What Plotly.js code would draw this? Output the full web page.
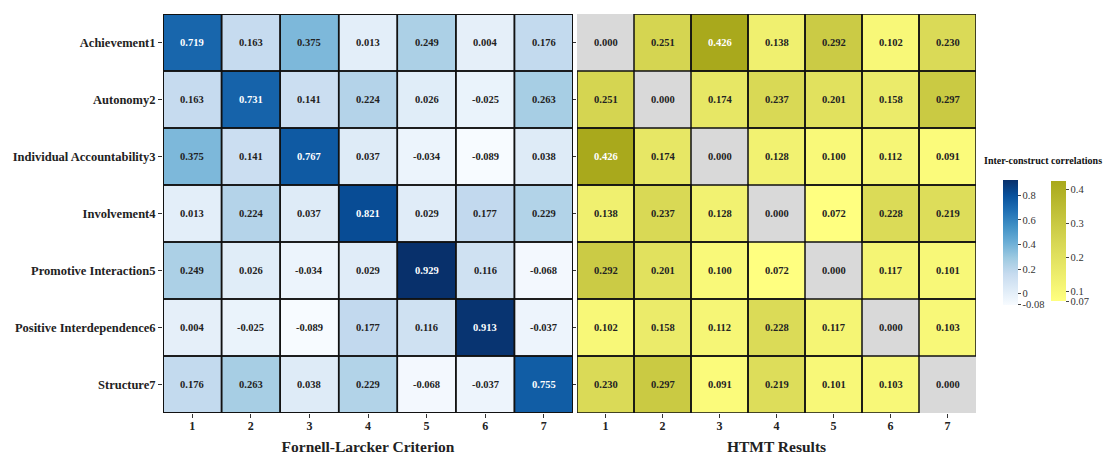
<!DOCTYPE html>
<html>
<head>
<meta charset="utf-8">
<script src="https://cdn.plot.ly/plotly-3.0.1.min.js"></script>
<style>html,body{margin:0;padding:0;background:#fff;}#chart{width:1108px;height:455px;}</style>
</head>
<body>
<div id="chart"></div>
<script>
// ---- data ----
const constructs = ["Achievement1","Autonomy2","Individual Accountability3","Involvement4","Promotive Interaction5","Positive Interdependence6","Structure7"];
const colLabels = ["1","2","3","4","5","6","7"];
const fornellLarcker = [
  [0.719, 0.163, 0.375, 0.013, 0.249, 0.004, 0.176],
  [0.163, 0.731, 0.141, 0.224, 0.026, -0.025, 0.263],
  [0.375, 0.141, 0.767, 0.037, -0.034, -0.089, 0.038],
  [0.013, 0.224, 0.037, 0.821, 0.029, 0.177, 0.229],
  [0.249, 0.026, -0.034, 0.029, 0.929, 0.116, -0.068],
  [0.004, -0.025, -0.089, 0.177, 0.116, 0.913, -0.037],
  [0.176, 0.263, 0.038, 0.229, -0.068, -0.037, 0.755]
];
const htmt = [
  [0.000, 0.251, 0.426, 0.138, 0.292, 0.102, 0.230],
  [0.251, 0.000, 0.174, 0.237, 0.201, 0.158, 0.297],
  [0.426, 0.174, 0.000, 0.128, 0.100, 0.112, 0.091],
  [0.138, 0.237, 0.128, 0.000, 0.072, 0.228, 0.219],
  [0.292, 0.201, 0.100, 0.072, 0.000, 0.117, 0.101],
  [0.102, 0.158, 0.112, 0.228, 0.117, 0.000, 0.103],
  [0.230, 0.297, 0.091, 0.219, 0.101, 0.103, 0.000]
];
const blueTickVals = [-0.089, 0, 0.2, 0.4, 0.6, 0.8];
const blueTickText = ["-0.08", "0", "0.2", "0.4", "0.6", "0.8"];
const yellowTickVals = [0.072, 0.1, 0.2, 0.3, 0.4];
const yellowTickText = ["0.07", "0.1", "0.2", "0.3", "0.4"];

// ---- build ----
const n = constructs.length;
const xs = colLabels.map((_, i) => i + 1);
const ys = constructs.map((_, i) => i + 1);
const serif = "Liberation Serif, Times New Roman, serif";

const flMin = Math.min(...fornellLarcker.flat());
const flMax = Math.max(...fornellLarcker.flat());
const offDiag = htmt.map((r, i) => r.map((v, j) => i === j ? null : v));
const diagOnly = htmt.map((r, i) => r.map((v, j) => i === j ? 1 : null));
const offVals = offDiag.flat().filter(v => v !== null);
const hMin = Math.min(...offVals), hMax = Math.max(...offVals);

const blues = [[0,'#f7fbff'],[0.125,'#deebf7'],[0.25,'#c6dbef'],[0.375,'#9ecae1'],[0.5,'#6baed6'],[0.625,'#4292c6'],[0.75,'#2171b5'],[0.875,'#08519c'],[1,'#08306b']];
const yellows = [[0,'#ffff80'],[0.5,'#d6d652'],[1,'#a9a91c']];

const cbTickFont = {family: serif, size: 10.5, color: '#333'};

const traces = [
  {type:'heatmap', x: xs, y: ys, z: fornellLarcker, xaxis:'x', yaxis:'y',
   colorscale: blues, zmin: flMin, zmax: flMax, hoverinfo:'z',
   colorbar: {x: 993/1108, xanchor:'left', y: 1-242/455, yanchor:'middle', thickness: 15,
              lenmode:'pixels', len: 145, outlinewidth: 0, ticks:'outside', ticklen: 3, tickcolor:'#444',
              tickvals: blueTickVals, ticktext: blueTickText, tickfont: cbTickFont}},
  {type:'heatmap', x: xs, y: ys, z: offDiag, xaxis:'x2', yaxis:'y2',
   colorscale: yellows, zmin: hMin, zmax: hMax, hoverinfo:'z',
   colorbar: {x: 1041/1108, xanchor:'left', y: 1-241/455, yanchor:'middle', thickness: 15,
              lenmode:'pixels', len: 140, outlinewidth: 0, ticks:'outside', ticklen: 3, tickcolor:'#444',
              tickvals: yellowTickVals, ticktext: yellowTickText, tickfont: cbTickFont}},
  {type:'heatmap', x: xs, y: ys, z: diagOnly, xaxis:'x2', yaxis:'y2',
   colorscale: [[0,'#d9d9d9'],[1,'#d9d9d9']], showscale: false, hoverinfo:'skip'}
];

const shapes = [];
const annotations = [];
for (let i = 0; i < n; i++) {
  for (let j = 0; j < n; j++) {
    const v = fornellLarcker[i][j];
    shapes.push({type:'rect', xref:'x', yref:'y', x0: xs[j]-0.5, x1: xs[j]+0.5, y0: ys[i]-0.5, y1: ys[i]+0.5,
                 line:{color:'#111', width:1.5}, fillcolor:'rgba(0,0,0,0)'});
    annotations.push({xref:'x', yref:'y', x: xs[j], y: ys[i], text: v.toFixed(3), showarrow:false,
                      font:{family: serif, size: 10.5, color: v > 0.5 ? '#ffffff' : '#222', weight: 'bold'}});
    const h = htmt[i][j];
    if (i !== j) {
      shapes.push({type:'rect', xref:'x2', yref:'y2', x0: xs[j]-0.5, x1: xs[j]+0.5, y0: ys[i]-0.5, y1: ys[i]+0.5,
                   line:{color:'#111', width:1.5}, fillcolor:'rgba(0,0,0,0)'});
    }
    annotations.push({xref:'x2', yref:'y2', x: xs[j], y: ys[i], text: h.toFixed(3), showarrow:false,
                      font:{family: serif, size: 10.5, color: h > 0.4 ? '#ffffff' : '#222', weight: 'bold'}});
  }
}
// outer frame of left panel
shapes.push({type:'rect', xref:'x', yref:'y', x0: 0.5, x1: n+0.5, y0: 0.5, y1: n+0.5, line:{color:'#111', width:2}, fillcolor:'rgba(0,0,0,0)'});

annotations.push({xref:'paper', yref:'paper', x: 1043/1108, y: 1-160/455, xanchor:'center', yanchor:'middle',
  text:'Inter-construct correlations', showarrow:false, font:{family: serif, size: 10, color:'#111', weight:'bold'}});

const axisTickFont = {family: serif, size: 12.5, color:'#222', weight:'bold'};
const xTickFont = {family: serif, size: 12, color:'#222', weight:'bold'};
const yDom = [1-413/455, 1-14/455];
const layout = {
  width: 1108, height: 455,
  margin: {l:0, r:0, t:0, b:0},
  paper_bgcolor:'#fff', plot_bgcolor:'#fff',
  showlegend: false,
  xaxis: {domain:[163/1108, 573/1108], range:[0.5, n+0.5], tickvals: xs, ticktext: colLabels, ticks:'outside', ticklen:4,
          tickcolor:'#333', tickfont: xTickFont, ticklabelstandoff: -2, showgrid:false, zeroline:false, automargin:false,
          title:{text:'Fornell-Larcker Criterion', font:{family: serif, size: 15.5, color:'#222', weight:'bold'}, standoff: 8}},
  yaxis: {domain: yDom, range:[n+0.5, 0.5], tickvals: ys, ticktext: constructs, ticks:'outside', ticklen:4,
          tickcolor:'#333', tickfont: axisTickFont, showgrid:false, zeroline:false, automargin:false},
  xaxis2: {domain:[577/1108, 976/1108], range:[0.5, n+0.5], tickvals: xs, ticktext: colLabels, ticks:'outside', ticklen:4,
          tickcolor:'#333', tickfont: xTickFont, ticklabelstandoff: -2, showgrid:false, zeroline:false, automargin:false, anchor:'y2',
          title:{text:'HTMT Results', font:{family: serif, size: 15.5, color:'#222', weight:'bold'}, standoff: 8}},
  yaxis2: {domain: yDom, range:[n+0.5, 0.5], tickvals: ys, showticklabels:false, ticks:'outside', ticklen:3,
          tickcolor:'#333', showgrid:false, zeroline:false, automargin:false, anchor:'x2'},
  shapes: shapes,
  annotations: annotations
};

Plotly.newPlot('chart', traces, layout, {displayModeBar:false, staticPlot:true});
</script>
</body>
</html>
